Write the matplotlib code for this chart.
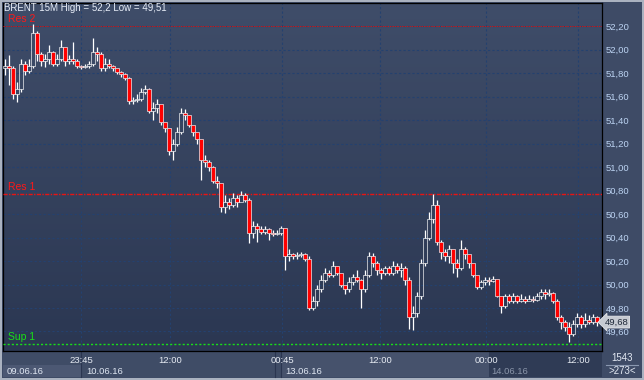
import numpy as np
import matplotlib.pyplot as plt
import matplotlib.transforms as mtransforms
from matplotlib.colors import LinearSegmentedColormap
from matplotlib.patches import Rectangle

plt.rcParams['font.family'] = ['Liberation Sans', 'DejaVu Sans']

# ---- data ----
first_open = 51.84
closes = [51.86, 51.84, 51.62, 51.66, 51.88, 51.82, 51.86, 52.14, 51.96, 51.90,
          51.92, 51.98, 51.88, 51.92, 52.02, 51.90, 51.92, 51.90, 51.86, 51.85,
          51.86, 51.88, 51.98, 51.96, 51.84, 51.88, 51.86, 51.84, 51.81, 51.79,
          51.76, 51.56, 51.57, 51.58, 51.64, 51.66, 51.48, 51.50, 51.54, 51.38,
          51.33, 51.14, 51.20, 51.30, 51.46, 51.44, 51.36, 51.30, 51.24, 51.06,
          51.04, 51.00, 50.88, 50.86, 50.66, 50.70, 50.68, 50.74, 50.70, 50.76,
          50.72, 50.44, 50.50, 50.47, 50.45, 50.47, 50.44, 50.43, 50.44, 50.48,
          50.24, 50.26, 50.24, 50.25, 50.26, 50.22, 49.80, 49.86, 49.96, 50.04,
          50.10, 50.08, 50.16, 50.10, 50.00, 49.96, 50.02, 50.06, 50.04, 49.96,
          50.08, 50.24, 50.18, 50.12, 50.10, 50.14, 50.10, 50.16, 50.12, 50.14,
          50.04, 49.72, 49.76, 49.90, 50.18, 50.40, 50.56, 50.68, 50.36, 50.28,
          50.24, 50.30, 50.18, 50.14, 50.30, 50.26, 50.18, 50.08, 49.98, 50.02,
          50.04, 50.03, 50.05, 49.90, 49.82, 49.90, 49.86, 49.90, 49.86, 49.88,
          49.86, 49.88, 49.87, 49.90, 49.94, 49.92, 49.93, 49.86, 49.72, 49.68,
          49.64, 49.58, 49.66, 49.72, 49.66, 49.70, 49.68, 49.72, 49.68]
highs = [51.92, 51.95, 51.86, 51.72, 51.92, 51.90, 51.92, 52.22, 52.16, 51.98,
         51.96, 52.04, 51.99, 51.96, 52.08, 52.02, 51.95, 52.06, 51.92, 51.87,
         51.88, 51.90, 52.10, 52.02, 51.98, 51.93, 51.92, 51.87, 51.84, 51.82,
         51.80, 51.77, 51.60, 51.62, 51.67, 51.70, 51.67, 51.55, 51.58, 51.52,
         51.38, 51.32, 51.24, 51.34, 51.50, 51.49, 51.42, 51.36, 51.30, 51.24,
         51.10, 51.06, 51.01, 50.92, 50.86, 50.76, 50.74, 50.78, 50.76, 50.80,
         50.78, 50.74, 50.54, 50.52, 50.50, 50.50, 50.48, 50.46, 50.46, 50.50,
         50.48, 50.30, 50.27, 50.28, 50.28, 50.27, 50.24, 49.90, 50.00, 50.08,
         50.14, 50.12, 50.20, 50.16, 50.08, 50.00, 50.06, 50.09, 50.12, 50.05,
         50.12, 50.28, 50.27, 50.20, 50.14, 50.16, 50.16, 50.20, 50.18, 50.18,
         50.16, 50.06, 49.82, 49.94, 50.22, 50.46, 50.62, 50.77, 50.72, 50.38,
         50.30, 50.34, 50.30, 50.22, 50.38, 50.32, 50.26, 50.18, 50.08, 50.04,
         50.06, 50.06, 50.07, 49.94, 49.88, 49.92, 49.92, 49.93, 49.91, 49.92,
         49.90, 49.91, 49.90, 49.93, 49.96, 49.96, 49.96, 49.94, 49.88, 49.74,
         49.70, 49.68, 49.70, 49.76, 49.74, 49.76, 49.74, 49.75, 49.73]
lows = [51.78, 51.70, 51.58, 51.55, 51.64, 51.78, 51.80, 51.84, 51.90, 51.86,
        51.85, 51.88, 51.86, 51.86, 51.90, 51.86, 51.88, 51.88, 51.84, 51.83,
        51.84, 51.84, 51.86, 51.90, 51.82, 51.82, 51.84, 51.82, 51.79, 51.77,
        51.74, 51.54, 51.54, 51.55, 51.56, 51.62, 51.46, 51.40, 51.46, 51.36,
        51.30, 51.10, 51.06, 51.18, 51.28, 51.40, 51.34, 51.26, 51.20, 50.89,
        51.00, 50.97, 50.86, 50.82, 50.62, 50.61, 50.64, 50.66, 50.66, 50.70,
        50.70, 50.35, 50.40, 50.36, 50.43, 50.43, 50.38, 50.41, 50.42, 50.42,
        50.12, 50.20, 50.22, 50.22, 50.23, 50.20, 49.78, 49.78, 49.82, 49.94,
        50.02, 50.06, 50.06, 50.08, 49.98, 49.92, 49.94, 50.00, 50.02, 49.80,
        49.94, 50.06, 50.15, 50.08, 50.05, 50.08, 50.08, 50.08, 50.10, 50.06,
        50.00, 49.62, 49.61, 49.72, 49.88, 50.16, 50.38, 50.52, 50.34, 50.22,
        50.20, 50.18, 50.10, 50.06, 50.12, 50.22, 50.14, 50.06, 49.96, 49.96,
        50.00, 50.00, 50.02, 49.89, 49.76, 49.80, 49.84, 49.84, 49.84, 49.85,
        49.84, 49.86, 49.85, 49.86, 49.88, 49.88, 49.90, 49.84, 49.70, 49.62,
        49.60, 49.51, 49.56, 49.64, 49.63, 49.64, 49.66, 49.66, 49.65]

price_ticks = [49.6, 49.8, 50.0, 50.2, 50.4, 50.6, 50.8, 51.0, 51.2, 51.4,
               51.6, 51.8, 52.0, 52.2]
time_ticks = [19, 41.25, 69.25, 93.75, 120.25, 143.25]
time_labels = ["23:45", "12:00", "00:45", "12:00", "00:00", "12:00"]
date_labels = ["09.06.16", "10.06.16", "13.06.16", "14.06.16"]
levels = {"Res 2": 52.20, "Res 1": 50.77, "Sup 1": 49.49}
last_price = 49.68
title = "BRENT 15M High = 52,2 Low = 49,51"

# ---- figure ----
W, H = 644, 380
fig = plt.figure(figsize=(W / 100, H / 100), dpi=100, facecolor='#aab2c0')

bg = fig.add_axes([0, 0, 1, 1], zorder=0)
bg.set_xlim(0, W)
bg.set_ylim(H, 0)
bg.axis('off')
bg.add_patch(Rectangle((2, 2), W - 4, H - 4, fc='#3e4b66', ec='none'))
bg.add_patch(Rectangle((3, 352), 599, 25, fc='#3f4c66', ec='none'))
bg.add_patch(Rectangle((3, 365), 78, 12, fc='#4c5873', ec='none'))
bg.add_patch(Rectangle((281, 352), 208, 25, fc='#46526c', ec='none'))
bg.add_patch(Rectangle((489, 352), 113, 25, fc='#2f3b55', ec='none'))
for xs in (81, 275, 281):
    bg.plot([xs, xs], [352, 377], color='#2a3550', lw=0.8)
bg.plot([606, 638], [364.5, 364.5], color='#8a98b0', lw=0.8)
bg.text(622, 358, "1543", color='#e2e8f2', fontsize=7, ha='center', va='center')
bg.text(622, 371, ">273<", color='#e2e8f2', fontsize=7, ha='center', va='center')

date_x = [7, 86, 285, 491]
date_col = ['#dfe6f2', '#dfe6f2', '#dfe6f2', '#8a95aa']
for dx, lab, col in zip(date_x, date_labels, date_col):
    bg.text(dx, 371.5, lab, color=col, fontsize=6.8, ha='left', va='center')

# ---- main price panel ----
ax = fig.add_axes([3 / W, (H - 351) / H, 599 / W, 348 / H], zorder=2)
grad = LinearSegmentedColormap.from_list('bgrad', ['#3f4d69', '#2b3752'])
ax.imshow(np.linspace(0, 1, 256).reshape(-1, 1), cmap=grad, aspect='auto',
          extent=[0, 1, 0, 1], transform=ax.transAxes, zorder=0)

n = len(closes)
x = np.arange(n)
opens = [first_open] + closes[:-1]
for i in range(n):
    o, c = opens[i], closes[i]
    top, bot = max(o, c), min(o, c)
    hi, lo = max(highs[i], top), min(lows[i], bot)
    if hi > top:
        ax.vlines(x[i], top, hi, color='white', lw=0.9, zorder=4)
    if lo < bot:
        ax.vlines(x[i], lo, bot, color='white', lw=0.9, zorder=4)
    face = '#ff0000' if c < o else 'none'
    ax.bar(x[i], top - bot, bottom=bot, width=0.8, color=face,
           edgecolor='white', linewidth=0.45, zorder=5)

ax.set_xlim(-0.5, 149.25)
ax.set_ylim(49.434, 52.396)

ax.grid(True, color='#24416f', linestyle=(0, (2, 2)), lw=0.8, zorder=1)
ax.set_axisbelow(True)

ax.axhline(levels["Res 2"], color='#c81818', lw=0.7, ls=(0, (1.5, 1)), zorder=3)
ax.axhline(levels["Res 1"], color='#e81414', lw=1.0, ls=(0, (3, 1, 1, 1)), zorder=3)
ax.axhline(levels["Sup 1"], color='#18e018', lw=1.0, ls=(0, (1.5, 1.5)), zorder=3)

btrans = mtransforms.blended_transform_factory(ax.transAxes, ax.transData)
for name, val in levels.items():
    col = '#18e018' if name.startswith("Sup") else '#ff1818'
    ax.annotate(name, xy=(0.008, val), xycoords=btrans, xytext=(0, 1.5),
                textcoords='offset points', color=col, fontsize=7.5,
                ha='left', va='bottom', zorder=6)

ax.text(0.002, 0.999, title, transform=ax.transAxes, color='#e8eef8',
        fontsize=7, ha='left', va='top', zorder=7)

ax.yaxis.tick_right()
ax.set_yticks(price_ticks)
ax.set_yticklabels([f"{v:.2f}".replace('.', ',') for v in price_ticks])
ax.tick_params(axis='y', length=0, pad=3, labelcolor='#bcd3f2', labelsize=6.8)
ax.set_xticks(time_ticks)
ax.set_xticklabels(time_labels)
ax.tick_params(axis='x', length=0, pad=3.5, labelcolor='#e6ebf3', labelsize=6.8)

for s in ax.spines.values():
    s.set_color('black')
    s.set_linewidth(0.9)

ax.text(1.004, last_price, f"{last_price:.2f}".replace('.', ','), transform=btrans,
        color='#1e2838', fontsize=6.8, ha='left', va='center', zorder=8,
        clip_on=False,
        bbox=dict(boxstyle='larrow,pad=0.15', fc='#c6cad2', ec='#e4e6ea', lw=0.6))

fig.savefig('out.png', dpi=100, facecolor=fig.get_facecolor())
